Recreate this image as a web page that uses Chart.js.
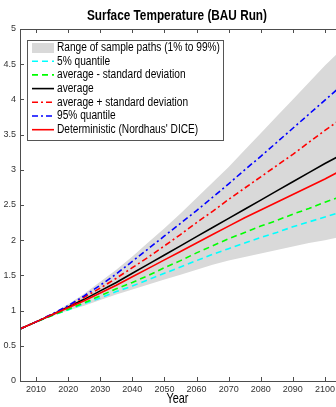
<!DOCTYPE html>
<html>
<head>
<meta charset="utf-8">
<script src="https://cdn.jsdelivr.net/npm/chart.js@4/dist/chart.umd.min.js"></script>
<style>
  html, body { margin: 0; padding: 0; background: #fff; overflow: hidden; }
  #caixa { width: 342px; height: 407px; }
</style>
</head>
<body>
<div id="caixa"><canvas id="graficoTemp"></canvas></div>
<script>
// anos e séries
const anos = [2005, 2010, 2015, 2020, 2025, 2030, 2035, 2040, 2045, 2050, 2055,
              2060, 2065, 2070, 2075, 2080, 2085, 2090, 2095, 2100, 2105];

const faixaSuperior   = [0.74, 0.85, 0.96, 1.09, 1.24, 1.41, 1.58, 1.77, 1.97, 2.17, 2.38,
                         2.60, 2.82, 3.04, 3.28, 3.52, 3.76, 4.00, 4.24, 4.48, 4.70];
const faixaInferior   = [0.74, 0.83, 0.92, 1.00, 1.07, 1.15, 1.23, 1.30, 1.37, 1.44, 1.51,
                         1.58, 1.65, 1.71, 1.76, 1.81, 1.86, 1.91, 1.96, 2.00, 2.05];
const quantil5        = [0.74, 0.84, 0.93, 1.01, 1.10, 1.18, 1.27, 1.35, 1.44, 1.53, 1.62,
                         1.71, 1.80, 1.88, 1.96, 2.04, 2.11, 2.19, 2.26, 2.33, 2.40];
const mediaMenosDesvio = [0.74, 0.84, 0.93, 1.02, 1.11, 1.21, 1.31, 1.40, 1.50, 1.61, 1.71,
                         1.82, 1.92, 2.02, 2.11, 2.20, 2.28, 2.37, 2.45, 2.54, 2.62];
const media           = [0.74, 0.84, 0.94, 1.05, 1.16, 1.28, 1.40, 1.53, 1.66, 1.79, 1.92,
                         2.05, 2.18, 2.31, 2.44, 2.57, 2.70, 2.83, 2.96, 3.09, 3.21];
const mediaMaisDesvio = [0.74, 0.84, 0.95, 1.06, 1.19, 1.32, 1.46, 1.61, 1.76, 1.92, 2.08,
                         2.25, 2.41, 2.58, 2.74, 2.90, 3.06, 3.22, 3.39, 3.56, 3.72];
const quantil95       = [0.74, 0.84, 0.95, 1.07, 1.21, 1.36, 1.52, 1.70, 1.88, 2.06, 2.24,
                         2.42, 2.61, 2.80, 3.00, 3.19, 3.39, 3.59, 3.79, 3.99, 4.19];
const deterministico  = [0.74, 0.84, 0.94, 1.04, 1.14, 1.25, 1.36, 1.48, 1.60, 1.72, 1.84,
                         1.96, 2.08, 2.20, 2.32, 2.43, 2.54, 2.65, 2.76, 2.87, 2.99];

const ticksAno  = [2010, 2020, 2030, 2040, 2050, 2060, 2070, 2080, 2090, 2100];
const ticksTemp = [0, 0.5, 1, 1.5, 2, 2.5, 3, 3.5, 4, 4.5, 5];

const titulo = "Surface Temperature (BAU Run)";
const tituloX = "Year";
const rotuloFaixa = "Range of sample paths (1% to 99%)";

const FONTE = "'Liberation Sans', Arial, sans-serif";
const CINZA = "#d9d9d9";

function pontos(valores) {
    return valores.map((v, i) => ({ x: anos[i], y: v }));
}

function linha(label, valores, cor, tracejado, ordem) {
    return {
        label: label,
        data: pontos(valores),
        borderColor: cor,
        borderWidth: 1.6,
        borderDash: tracejado,
        pointRadius: 0,
        fill: false,
        tension: 0,
        order: ordem
    };
}

// texto estreitado horizontalmente para caber na largura medida no original
function textoEstreito(ctx, texto, x, y, largura, alinhamento) {
    const w = ctx.measureText(texto).width;
    const sx = largura ? Math.min(1, largura / w) : 1;
    ctx.save();
    ctx.translate(x, y);
    ctx.scale(sx, 1);
    let dx = 0;
    if (alinhamento === "center") dx = -w / 2;
    ctx.textAlign = "left";
    ctx.fillText(texto, dx, 0);
    ctx.restore();
}

const molduraPlugin = {
    id: "moldura",
    afterDatasetsDraw(chart) {
        const ctx = chart.ctx;
        const a = chart.chartArea;
        const sx = chart.scales.x, sy = chart.scales.y;
        ctx.save();
        ctx.strokeStyle = "#4d4d4d";
        ctx.lineWidth = 1;
        ctx.strokeRect(Math.round(a.left) + 0.5, Math.round(a.top) + 0.5,
                       Math.round(a.right - a.left), Math.round(a.bottom - a.top));
        ctx.beginPath();
        ticksAno.forEach(v => {
            const px = Math.round(sx.getPixelForValue(v)) + 0.5;
            ctx.moveTo(px, a.bottom); ctx.lineTo(px, a.bottom - 4);
            ctx.moveTo(px, a.top); ctx.lineTo(px, a.top + 4);
        });
        ticksTemp.forEach(v => {
            const py = Math.round(sy.getPixelForValue(v)) + 0.5;
            ctx.moveTo(a.left, py); ctx.lineTo(a.left + 4, py);
            ctx.moveTo(a.right, py); ctx.lineTo(a.right - 4, py);
        });
        ctx.stroke();

        // título e rótulo do eixo x
        ctx.fillStyle = "#000";
        ctx.textBaseline = "middle";
        ctx.font = "bold 14px " + FONTE;
        textoEstreito(ctx, titulo, 177, 16, 180, "center");
        ctx.font = "15px " + FONTE;
        textoEstreito(ctx, tituloX, 177.5, 399, 22, "center");
        ctx.restore();
    }
};

const legendaPlugin = {
    id: "legendaInterna",
    afterDatasetsDraw(chart) {
        const ctx = chart.ctx;
        const x0 = 27.5, y0 = 40.5, w = 196, h = 100;
        ctx.save();
        ctx.fillStyle = "#fff";
        ctx.fillRect(x0, y0, w, h);
        ctx.strokeStyle = "#555";
        ctx.lineWidth = 1;
        ctx.strokeRect(x0, y0, w, h);

        const linhas = [
            { label: rotuloFaixa, faixa: true },
            chart.data.datasets[2], chart.data.datasets[3], chart.data.datasets[4],
            chart.data.datasets[5], chart.data.datasets[6], chart.data.datasets[7]
        ];
        ctx.font = "12px " + FONTE;
        ctx.textBaseline = "middle";
        const larguraBase = ctx.measureText(rotuloFaixa).width;
        const escala = 163 / larguraBase;
        linhas.forEach((item, i) => {
            const y = 47.5 + i * 13.7;
            if (item.faixa) {
                ctx.fillStyle = CINZA;
                ctx.fillRect(32, y - 4.5, 22, 10);
            } else {
                ctx.strokeStyle = item.borderColor;
                ctx.lineWidth = 1.6;
                ctx.setLineDash(item.borderDash || []);
                ctx.beginPath();
                ctx.moveTo(32, y); ctx.lineTo(54, y);
                ctx.stroke();
                ctx.setLineDash([]);
            }
            ctx.fillStyle = "#000";
            const wt = ctx.measureText(item.label).width;
            textoEstreito(ctx, item.label, 57, y, wt * escala, "left");
        });
        ctx.restore();
    }
};

const ctx = document.getElementById("graficoTemp").getContext("2d");

new Chart(ctx, {
    type: "line",
    data: {
        datasets: [
            {
                label: "faixa superior",
                data: pontos(faixaSuperior),
                borderWidth: 0,
                borderColor: CINZA,
                backgroundColor: CINZA,
                pointRadius: 0,
                fill: "+1",
                order: 20
            },
            {
                label: "faixa inferior",
                data: pontos(faixaInferior),
                borderWidth: 0,
                borderColor: CINZA,
                pointRadius: 0,
                fill: false,
                order: 21
            },
            linha("5% quantile", quantil5, "#00ffff", [6, 4], 6),
            linha("average - standard deviation", mediaMenosDesvio, "#00ff00", [6, 4], 5),
            linha("average", media, "#000000", [], 4),
            linha("average + standard deviation", mediaMaisDesvio, "#ff0000", [6, 3, 2, 3], 3),
            linha("95% quantile", quantil95, "#0000ff", [6, 3, 2, 3], 2),
            linha("Deterministic (Nordhaus' DICE)", deterministico, "#ff0000", [], 1)
        ]
    },
    options: {
        responsive: true,
        maintainAspectRatio: false,
        animation: false,
        layout: { padding: { top: 29, right: 1, left: 0, bottom: 0 } },
        plugins: {
            legend: { display: false },
            title: { display: false },
            tooltip: { enabled: false },
            filler: { propagate: false }
        },
        scales: {
            x: {
                type: "linear",
                min: 2005,
                max: 2105,
                grid: { display: false, drawTicks: false },
                border: { display: false },
                afterBuildTicks: s => { s.ticks = ticksAno.map(v => ({ value: v })); },
                afterFit: s => { s.height = 26; },
                ticks: {
                    autoSkip: false,
                    maxRotation: 0,
                    padding: 3,
                    color: "#333",
                    font: { family: FONTE, size: 9 },
                    callback: v => String(v)
                }
            },
            y: {
                min: 0,
                max: 5,
                grid: { display: false, drawTicks: false },
                border: { display: false },
                afterBuildTicks: s => { s.ticks = ticksTemp.map(v => ({ value: v })); },
                afterFit: s => { s.width = 20; },
                ticks: {
                    autoSkip: false,
                    padding: 4,
                    color: "#333",
                    font: { family: FONTE, size: 9 },
                    callback: v => String(v)
                }
            }
        }
    },
    plugins: [molduraPlugin, legendaPlugin]
});
</script>
</body>
</html>
